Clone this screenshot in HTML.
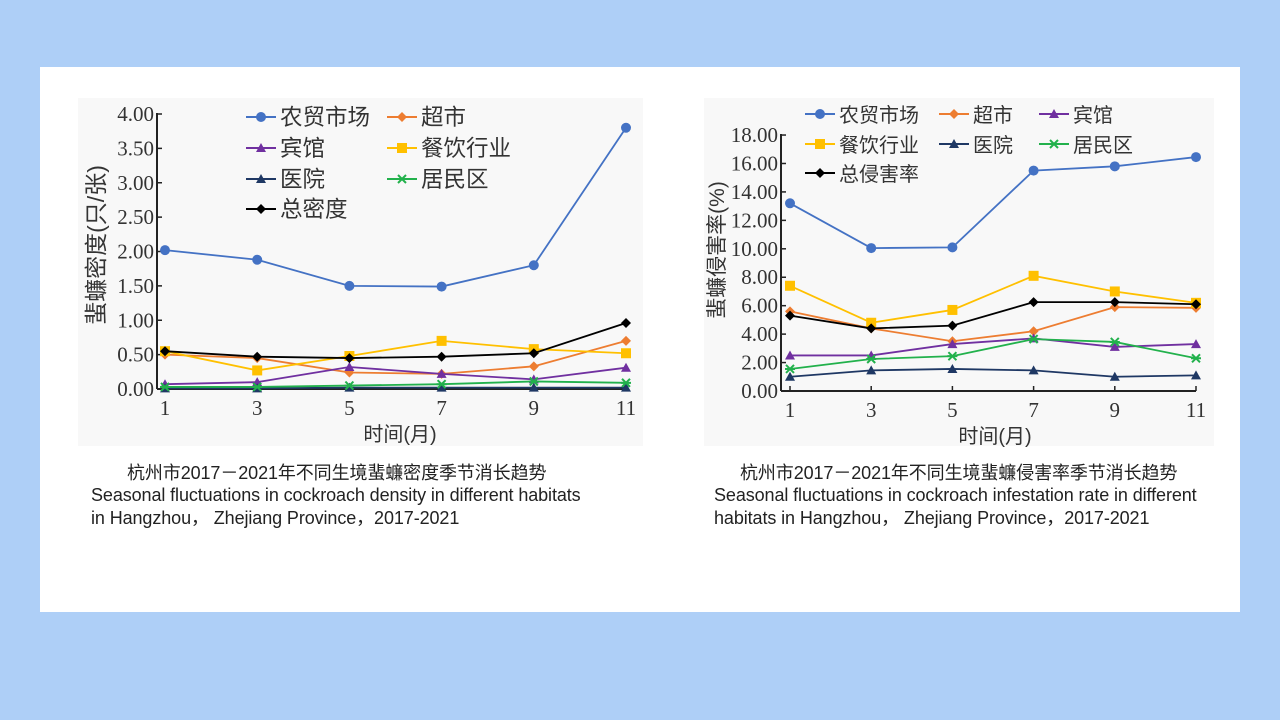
<!DOCTYPE html>
<html><head><meta charset="utf-8"><style>
body{margin:0;width:1280px;height:720px;background:#aecff7;overflow:hidden;font-family:"Liberation Sans","Noto Sans CJK SC",sans-serif}
.panel{position:absolute;left:40px;top:67px;width:1200px;height:545px;background:#fff}
.cap{position:absolute;font-size:18px;color:#222;line-height:23px;white-space:nowrap;letter-spacing:-0.1px}
svg{position:absolute;left:0;top:0}
</style></head><body>
<div class="panel"></div>
<svg id="s" width="1280" height="720" xmlns="http://www.w3.org/2000/svg">
<rect x="78" y="98" width="565" height="348" fill="#f8f8f8"/>
<rect x="704" y="98" width="510" height="348" fill="#f8f8f8"/>
<g id="g"></g>
</svg>
<div class="cap" style="left:127px;top:462px">杭州市2017－2021年不同生境蜚蠊密度季节消长趋势</div>
<div class="cap" style="left:91px;top:484px">Seasonal fluctuations in cockroach density in different habitats<br>in Hangzhou，&nbsp;Zhejiang Province，2017-2021</div>
<div class="cap" style="left:740px;top:462px">杭州市2017－2021年不同生境蜚蠊侵害率季节消长趋势</div>
<div class="cap" style="left:714px;top:484px">Seasonal fluctuations in cockroach infestation rate in different<br>habitats in Hangzhou，&nbsp;Zhejiang Province，2017-2021</div>
<script>
var g=document.getElementById('g'),h='';
var SF='"Liberation Serif","Noto Serif CJK SC",serif',CF='"Liberation Sans","Noto Sans CJK SC",sans-serif';
var C={blue:'#4472c4',orange:'#ed7d31',purple:'#7030a0',yellow:'#ffc000',navy:'#1f3864',green:'#22b14c',black:'#000'};
function mk(t,x,y,c){
 if(t=='c')return '<circle cx="'+x+'" cy="'+y+'" r="5" fill="'+c+'"/>';
 if(t=='d')return '<polygon points="'+x+','+(y-5)+' '+(x+5)+','+y+' '+x+','+(y+5)+' '+(x-5)+','+y+'" fill="'+c+'"/>';
 if(t=='t')return '<polygon points="'+x+','+(y-5)+' '+(x+5)+','+(y+4)+' '+(x-5)+','+(y+4)+'" fill="'+c+'"/>';
 if(t=='s')return '<rect x="'+(x-5)+'" y="'+(y-5)+'" width="10" height="10" fill="'+c+'"/>';
 if(t=='x')return '<path d="M'+(x-4)+' '+(y-4)+'L'+(x+4)+' '+(y+4)+'M'+(x+4)+' '+(y-4)+'L'+(x-4)+' '+(y+4)+'M'+(x-5)+' '+y+'L'+(x+5)+' '+y+'" stroke="'+c+'" stroke-width="2"/>';
}
function chart(o){
 var X=function(i){return o.x0+i*o.dx},Y=function(v){return o.y0-v*o.py};
 h+='<line x1="'+o.ax+'" y1="'+(Y(o.max)-1)+'" x2="'+o.ax+'" y2="'+o.y0+'" stroke="#222" stroke-width="2"/>';
 h+='<line x1="'+o.ax+'" y1="'+o.y0+'" x2="'+X(5)+'" y2="'+o.y0+'" stroke="#222" stroke-width="2"/>';
 for(var v=0;v<=o.max+1e-9;v+=o.step){var y=Y(v);h+='<line x1="'+o.ax+'" y1="'+y+'" x2="'+(o.ax+5)+'" y2="'+y+'" stroke="#222" stroke-width="1.5"/>';
  h+='<text x="'+(o.ax-3)+'" y="'+(y+7)+'" font-family=\''+SF+'\' font-size="21" fill="#333" text-anchor="end">'+v.toFixed(2)+'</text>';}
 for(var i=0;i<6;i++){h+='<line x1="'+X(i)+'" y1="'+o.y0+'" x2="'+X(i)+'" y2="'+(o.y0-5)+'" stroke="#222" stroke-width="1.5"/>';
  h+='<text x="'+X(i)+'" y="'+(o.y0+26)+'" font-family=\''+SF+'\' font-size="21" fill="#333" text-anchor="middle">'+(1+2*i)+'</text>';}
 h+='<text x="'+o.tx+'" y="'+(o.y0+52)+'" font-family=\''+CF+'\' font-size="20" fill="#333" text-anchor="middle">时间(月)</text>';
 h+='<text transform="translate('+o.yx+','+o.yc+') rotate(-90)" font-family=\''+CF+'\' font-size="'+o.yf+'" fill="#333" text-anchor="middle">'+o.yt+'</text>';
 o.series.forEach(function(s){var p=s[2].map(function(v,i){return X(i)+','+Y(v)}).join(' ');
  h+='<polyline points="'+p+'" fill="none" stroke="'+C[s[0]]+'" stroke-width="1.8"/>';
  s[2].forEach(function(v,i){h+=mk(s[1],X(i),Y(v),C[s[0]])});});
 o.leg.forEach(function(l){var s=o.series[l[0]];h+='<line x1="'+l[1]+'" y1="'+l[2]+'" x2="'+(l[1]+30)+'" y2="'+l[2]+'" stroke="'+C[s[0]]+'" stroke-width="2"/>'+mk(s[1],l[1]+15,l[2],C[s[0]]);
  h+='<text x="'+(l[1]+34)+'" y="'+(l[2]+8)+'" font-family=\''+CF+'\' font-size="'+o.lf+'" fill="#333">'+l[3]+'</text>';});
}
chart({x0:165,dx:92.2,y0:389,py:68.75,max:4,step:0.5,ax:157,tx:400,yx:104,yc:245,yt:'蜚蠊密度(只/张)',yf:23,lf:22.5,
series:[['blue','c',[2.02,1.88,1.5,1.49,1.8,3.8]],['orange','d',[0.5,0.45,0.24,0.22,0.33,0.7]],['purple','t',[0.07,0.1,0.32,0.22,0.14,0.31]],
['yellow','s',[0.55,0.27,0.48,0.7,0.58,0.52]],['navy','t',[0.01,0.01,0.02,0.02,0.02,0.02]],['green','x',[0.03,0.03,0.05,0.07,0.11,0.09]],['black','d',[0.55,0.47,0.45,0.47,0.52,0.96]]],
leg:[[0,246,117,'农贸市场'],[1,387,117,'超市'],[2,246,148,'宾馆'],[3,387,148,'餐饮行业'],[4,246,179,'医院'],[5,387,179,'居民区'],[6,246,209,'总密度']]});
chart({x0:790,dx:81.2,y0:391,py:14.22,max:18,step:2,ax:781,tx:995,yx:724,yc:250,yt:'蜚蠊侵害率(%)',yf:21,lf:20,
series:[['blue','c',[13.2,10.05,10.1,15.5,15.8,16.45]],['orange','d',[5.6,4.4,3.5,4.2,5.9,5.85]],['purple','t',[2.5,2.5,3.3,3.7,3.1,3.3]],
['yellow','s',[7.4,4.8,5.7,8.1,7.0,6.2]],['navy','t',[1.0,1.45,1.55,1.45,1.0,1.1]],['green','x',[1.55,2.25,2.45,3.65,3.45,2.3]],['black','d',[5.3,4.4,4.6,6.25,6.25,6.1]]],
leg:[[0,805,114,'农贸市场'],[1,939,114,'超市'],[2,1039,114,'宾馆'],[3,805,144,'餐饮行业'],[4,939,144,'医院'],[5,1039,144,'居民区'],[6,805,173,'总侵害率']]});
g.innerHTML=h;
</script>
</body></html>
